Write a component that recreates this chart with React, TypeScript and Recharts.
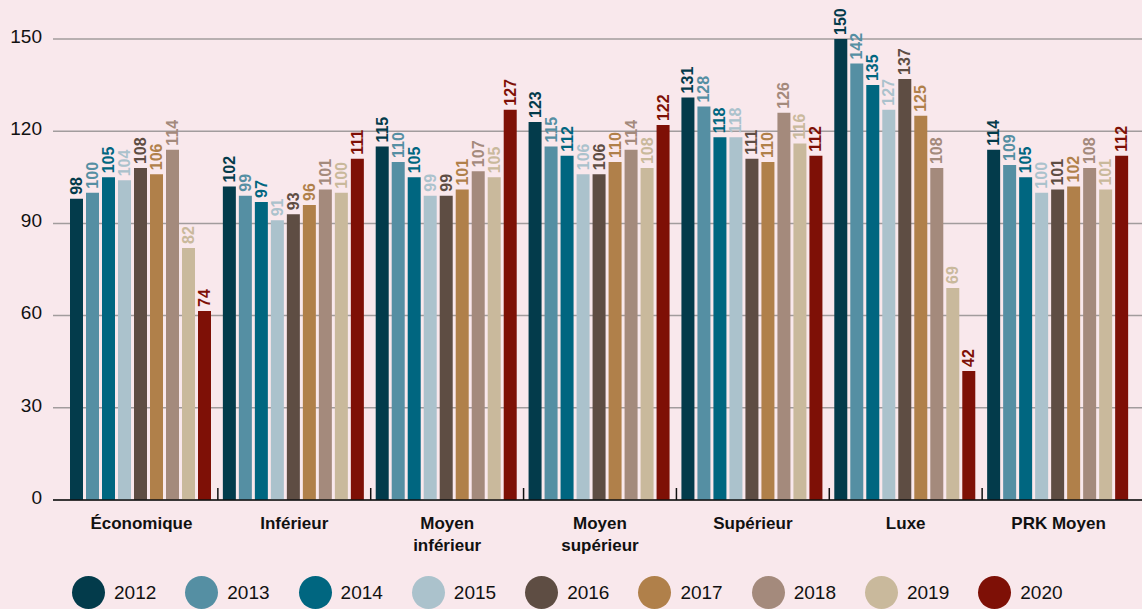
import { BarChart, Bar, XAxis, YAxis, CartesianGrid, Legend, LabelList, ReferenceLine } from 'recharts';

const categories = ['Économique', 'Inférieur', 'Moyen\ninférieur', 'Moyen\nsupérieur', 'Supérieur', 'Luxe', 'PRK Moyen'];
const years = ['2012', '2013', '2014', '2015', '2016', '2017', '2018', '2019', '2020'];
const colors = ['#033b4b', '#558fa3', '#006680', '#abc2cc', '#5e4d43', '#b0804a', '#a48a7c', '#c9b99c', '#7e1006'];

const v2012 = [98, 102, 115, 123, 131, 150, 114];
const v2013 = [100, 99, 110, 115, 128, 142, 109];
const v2014 = [105, 97, 105, 112, 118, 135, 105];
const v2015 = [104, 91, 99, 106, 118, 127, 100];
const v2016 = [108, 93, 99, 106, 111, 137, 101];
const v2017 = [106, 96, 101, 110, 110, 125, 102];
const v2018 = [114, 101, 107, 114, 126, 108, 108];
const v2019 = [82, 100, 105, 108, 116, 69, 101];
const v2020 = [61.5, 111, 127, 122, 112, 42, 112];
// the printed label for 2020 differs from the bar in the first group
const labels2020 = [74, 111, 127, 122, 112, 42, 112];

const yTicks = [0, 30, 60, 90, 120, 150];

const series = [v2012, v2013, v2014, v2015, v2016, v2017, v2018, v2019, v2020];

const data = categories.map((c, i) => {
  const row: Record<string, number | string> = { cat: c };
  years.forEach((y, k) => {
    row[y] = series[k][i];
    row['l' + y] = k === 8 ? labels2020[i] : series[k][i];
  });
  return row;
});

const FONT = '"Liberation Sans", Arial, Helvetica, sans-serif';

function CatTick({ x, y, payload }: any) {
  const lines = String(payload.value).split('\n');
  return (
    <text x={x} y={y} textAnchor="middle" fontFamily={FONT} fontWeight="bold" fontSize={17} fill="#111">
      {lines.map((l, i) => (
        <tspan key={i} x={x} y={y + 29 + i * 22}>{l}</tspan>
      ))}
    </text>
  );
}

function makeLabel(color: string) {
  return (props: any) => {
    const { x, y, width, value } = props;
    const cx = Number(x) + Number(width) / 2;
    const ty = Number(y) - 4;
    return (
      <text
        x={cx}
        y={ty}
        transform={`rotate(-90, ${cx}, ${ty})`}
        textAnchor="start"
        dominantBaseline="central"
        fontFamily={FONT}
        fontWeight="bold"
        fontSize={16}
        fill={color}
      >
        {value}
      </text>
    );
  };
}

// short tick at the foot of the line only
function SepShape(props: any) {
  const bottom = Math.max(Number(props.y1), Number(props.y2));
  return <line x1={props.x1} x2={props.x2} y1={bottom - 12} y2={bottom} stroke="#111" strokeWidth={1.5} />;
}

function LegendContent() {
  return (
    <div style={{ display: 'flex', alignItems: 'center', paddingLeft: 72, height: 33 }}>
      {years.map((y, i) => (
        <div key={y} style={{ display: 'flex', alignItems: 'center', marginRight: 29 }}>
          <span style={{ width: 33, height: 33, borderRadius: '50%', background: colors[i], display: 'inline-block' }} />
          <span style={{ marginLeft: 9, fontFamily: FONT, fontSize: 19, color: '#111' }}>{y}</span>
        </div>
      ))}
    </div>
  );
}

export default function App() {
  return (
    <div style={{ position: 'absolute', left: 0, top: 0, width: 1142, height: 609, background: '#f9e8ec', overflow: 'hidden' }}>
      <BarChart
        width={1142}
        height={609}
        data={data}
        margin={{ top: 39, right: 0, left: 0, bottom: 0 }}
        barGap={3}
        barCategoryGap={5}
      >
        <CartesianGrid vertical={false} stroke="#a29c9d" strokeWidth={1.5} />
        <XAxis
          dataKey="cat"
          padding={{ left: 12, right: 7 }}
          height={76}
          tickLine={false}
          tickSize={0}
          tickMargin={0}
          axisLine={{ stroke: '#111', strokeWidth: 1.5 }}
          tick={<CatTick />}
          interval={0}
        />
        <YAxis
          width={53}
          domain={[0, 150]}
          ticks={yTicks}
          axisLine={false}
          tickLine={false}
          tickSize={0}
          tickMargin={11}
          tick={{ fontFamily: FONT, fontSize: 19, fill: '#111', dy: -3 }}
        />
        <Legend verticalAlign="bottom" align="left" content={<LegendContent />} wrapperStyle={{ left: 0 }} />
        {years.map((y, i) => (
          <Bar key={y} dataKey={y} fill={colors[i]} isAnimationActive={false}>
            <LabelList dataKey={'l' + y} content={makeLabel(colors[i])} />
          </Bar>
        ))}
        {categories.slice(1).map((c) => (
          <ReferenceLine key={c} x={c} position="start" shape={<SepShape />} />
        ))}
      </BarChart>
    </div>
  );
}
